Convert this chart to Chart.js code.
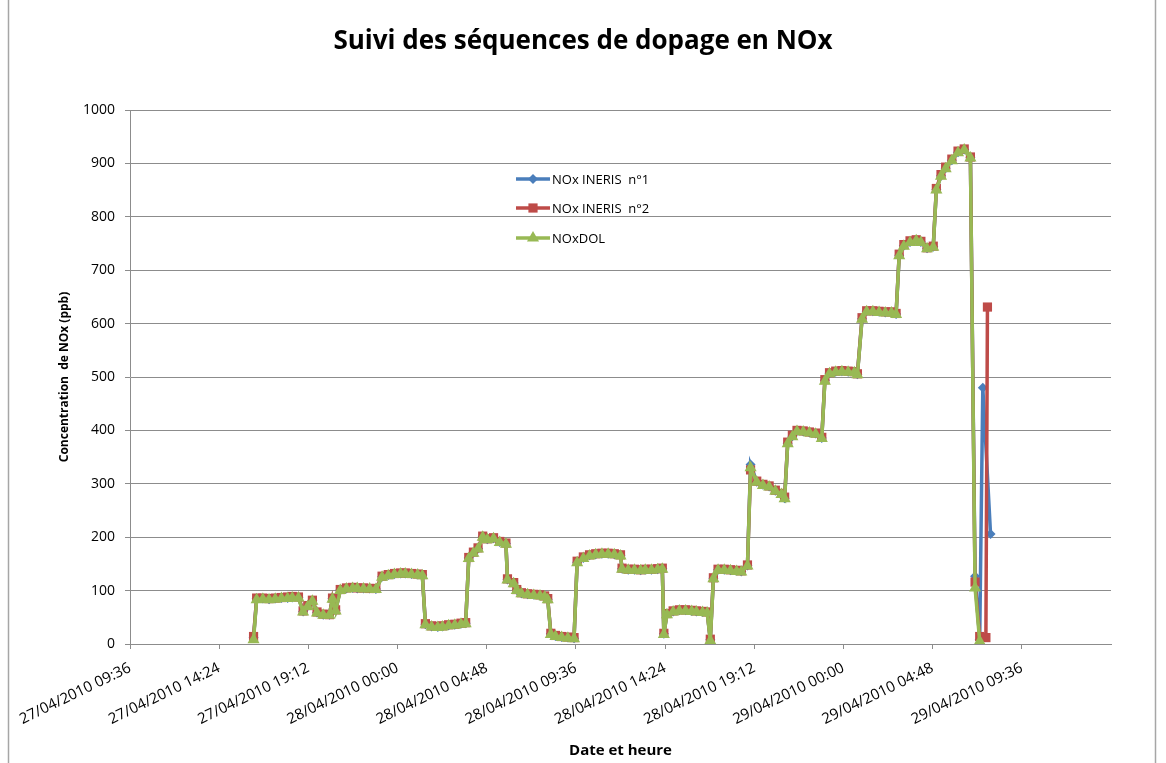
<!DOCTYPE html>
<html><head><meta charset="utf-8">
<script src="https://cdn.jsdelivr.net/npm/chart.js@4/dist/chart.umd.min.js"></script>
<style>html,body{margin:0;padding:0;background:#fff;}canvas{display:block;}</style>
</head><body>
<canvas id="c" width="1166" height="763"></canvas>
<script>
// time in minutes since 27/04/2010 00:00
const times = [975,985,1005,1025,1045,1065,1085,1100,1120,1135,1150,1165,1180,1200,1220,1230,1240,1255,1275,1295,1310,1330,1350,1370,
1390,1410,1430,1450,1465,1485,1505,1520,1530,1550,1570,1585,1605,1625,1645,1660,1670,1685,1700,1715,1730,1750,1770,1790,
1795,1815,1825,1840,1860,1880,1900,1915,1925,1935,1950,1970,1990,2010,2020,2040,2060,2080,2100,2120,2140,2160,
2165,2185,2205,2225,2240,2260,2280,2295,2300,2310,2330,2350,2370,2390,2405,2425,2440,2450,2460,2475,2495,2515,2535,2550,2570,
2580,2600,2620,2640,2660,2680,2690,2700,2715,2730,2750,2770,2790,2810,2820,2835,2855,2875,2895,2915,2925,
2940,2955,2975,2995,3015,3035,3050,3060,3075,3095,3115,3130,3150,3170,3180,3195,3210,3230,3250,3270,3290,
3305,3320,3330,3340,3345,3355];
const noxIneris1 = [12,85,85,84,85,86,86,87,87,61,71,81,59,55,55,85,63,101,104,105,104,104,104,103,
126,129,131,132,132,131,130,129,37,33,32,33,35,36,38,39,161,171,179,201,196,198,191,188,
121,114,101,95,93,92,91,89,84,19,15,13,12,11,153,161,166,168,169,169,168,166,
141,139,139,138,139,139,140,141,19,56,61,63,63,62,61,60,59,8,123,139,139,138,137,136,147,
336,304,298,295,287,281,273,376,389,399,398,396,394,386,494,507,510,511,510,509,505,
609,623,623,622,621,621,618,728,746,753,756,753,741,744,851,877,891,906,921,926,911,
127,8,480,null,null,206];
const noxIneris2 = [14,86,86,85,86,87,88,89,88,62,72,82,60,56,55,86,64,102,105,106,105,105,104,104,
127,130,132,133,133,132,131,130,38,34,33,34,36,37,39,40,162,172,180,202,197,199,192,189,
122,115,102,96,94,93,92,90,85,20,16,14,13,12,155,163,167,169,170,170,169,167,
142,140,140,139,140,140,141,142,20,57,62,64,64,63,62,61,60,9,124,140,140,139,138,137,148,
326,305,299,296,288,282,275,378,391,400,399,397,395,387,495,508,511,512,511,510,506,
611,624,624,623,622,622,619,730,748,755,757,754,742,745,853,879,893,908,923,927,912,
116,14,null,12,631,null];
const noxDol = [8,83,84,83,84,85,85,86,86,60,70,80,58,54,54,84,62,100,103,104,104,103,103,102,
125,128,130,131,131,130,129,128,36,32,31,32,34,35,37,38,160,170,178,200,195,197,190,187,
120,113,100,94,92,91,90,88,83,18,14,12,11,10,152,160,165,167,168,168,167,165,
140,138,138,137,138,138,139,140,18,55,60,62,62,61,60,59,58,6,122,138,138,137,136,135,146,
330,303,297,294,286,280,272,375,388,398,397,395,393,385,492,506,509,510,509,508,504,
608,622,622,621,620,620,617,727,745,752,755,752,740,743,850,876,890,905,920,925,910,
105,5,null,null,null,null];

const seriesNames = ['NOx INERIS  n°1', 'NOx INERIS  n°2', 'NOxDOL'];
const seriesColors = ['#4A7EBB', '#BE4B48', '#98B954'];
const xTickValues = [576, 864, 1152, 1440, 1728, 2016, 2304, 2592, 2880, 3168, 3456];
const xTickLabels = ['27/04/2010 09:36','27/04/2010 14:24','27/04/2010 19:12','28/04/2010 00:00','28/04/2010 04:48',
  '28/04/2010 09:36','28/04/2010 14:24','28/04/2010 19:12','29/04/2010 00:00','29/04/2010 04:48','29/04/2010 09:36'];
const xMin = 576, xMax = 3744;
const yMin = 0, yMax = 1000, yStep = 100;
const chartTitle = 'Suivi des séquences de dopage en NOx';
const xTitle = 'Date et heure';
const yTitle = 'Concentration  de NOx (ppb)';

const FONT = '"Open Sans", "Liberation Sans", sans-serif';
const GRID = '#8C8C8C';
const styles = ['rectRot', 'rect', 'triangle'];
const radii = [5, 6.5, 7];

function pts(arr) { return times.map((t, i) => ({x: t, y: arr[i]})); }

const datasets = [noxIneris1, noxIneris2, noxDol].map((arr, i) => ({
  label: seriesNames[i],
  data: pts(arr),
  borderColor: seriesColors[i],
  backgroundColor: seriesColors[i],
  pointBackgroundColor: seriesColors[i],
  pointBorderColor: seriesColors[i],
  pointBorderWidth: 0,
  pointStyle: styles[i],
  pointRadius: radii[i],
  borderWidth: 3.5,
  tension: 0,
  spanGaps: true,
  order: 2 - i
}));

const decor = {
  id: 'decor',
  beforeDraw(chart) {
    const ctx = chart.ctx;
    ctx.save();
    ctx.fillStyle = '#fff';
    ctx.fillRect(0, 0, chart.width, chart.height);
    ctx.strokeStyle = '#A6A6A6';
    ctx.lineWidth = 1.5;
    ctx.beginPath();
    ctx.moveTo(8.5, 0); ctx.lineTo(8.5, chart.height);
    ctx.moveTo(1155.5, 0); ctx.lineTo(1155.5, chart.height);
    ctx.stroke();
    ctx.restore();
  },
  afterDraw(chart) {
    const ctx = chart.ctx;
    ctx.save();
    ctx.fillStyle = '#000';
    ctx.font = 'bold 26px ' + FONT;
    ctx.textAlign = 'center';
    ctx.textBaseline = 'middle';
    ctx.fillText(chartTitle, 583, 42);
    // legend
    const ly = [179, 208, 238];
    ctx.font = '13px ' + FONT;
    ctx.textAlign = 'left';
    for (let i = 0; i < 3; i++) {
      ctx.strokeStyle = seriesColors[i];
      ctx.lineWidth = 3.5;
      ctx.beginPath();
      ctx.moveTo(516, ly[i]); ctx.lineTo(550, ly[i]);
      ctx.stroke();
      ctx.fillStyle = seriesColors[i];
      ctx.strokeStyle = seriesColors[i];
      Chart.helpers.drawPoint(ctx, {pointStyle: styles[i], radius: radii[i], rotation: 0, borderWidth: 0}, 533, ly[i]);
      ctx.fillStyle = '#000';
      ctx.fillText(seriesNames[i], 552, ly[i] + 1);
    }
    ctx.restore();
  }
};

new Chart(document.getElementById('c'), {
  type: 'line',
  data: { datasets },
  options: {
    responsive: false,
    animation: false,
    devicePixelRatio: 1,
    layout: { padding: { top: 110, right: 55, bottom: 0, left: 0 } },
    plugins: { legend: { display: false }, title: { display: false }, tooltip: { enabled: false } },
    scales: {
      x: {
        type: 'linear',
        min: xMin, max: xMax,
        afterBuildTicks(scale) { scale.ticks = xTickValues.map(v => ({value: v})); },
        afterFit(scale) { scale.height = 119; },
        ticks: {
          autoSkip: false, minRotation: 26, maxRotation: 26, padding: 10,
          color: '#000', font: { family: FONT, size: 15 },
          callback: (v, i) => xTickLabels[i]
        },
        grid: { drawOnChartArea: false, drawTicks: true, tickLength: 5, color: GRID, lineWidth: 1 },
        border: { color: GRID, width: 1 },
        title: { display: true, text: xTitle, color: '#000', font: { family: FONT, size: 15, weight: 'bold' }, padding: { top: 0, bottom: 3 } }
      },
      y: {
        min: yMin, max: yMax,
        afterFit(scale) { scale.width = 130; },
        ticks: { stepSize: yStep, padding: 10, color: '#000', font: { family: FONT, size: 14 }, callback: v => String(v) },
        grid: { color: GRID, lineWidth: 1, tickLength: 5 },
        border: { color: GRID, width: 1 },
        title: { display: true, text: yTitle, color: '#000', font: { family: FONT, size: 12, weight: 'bold' }, padding: { top: 57, bottom: 0 } }
      }
    }
  },
  plugins: [decor]
});
</script>
</body></html>
